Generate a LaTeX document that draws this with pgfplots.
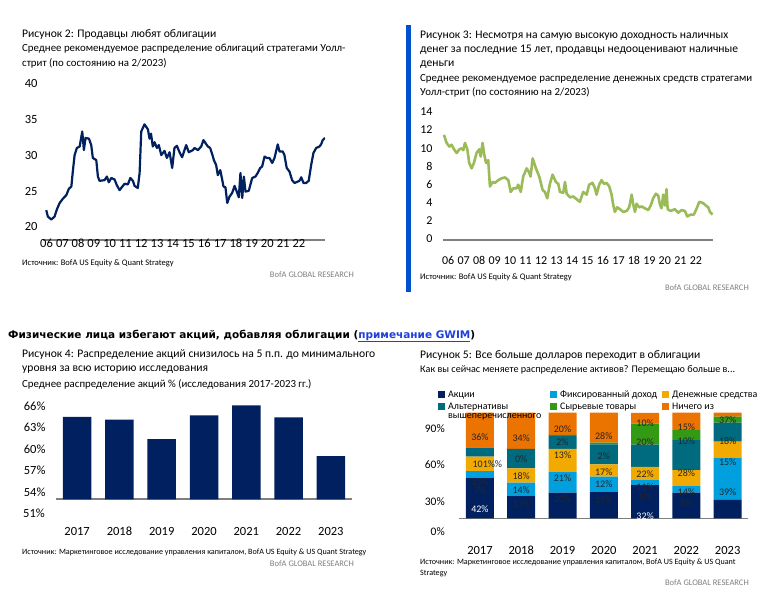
\documentclass[border=0pt]{standalone}
\usepackage{fontspec}
\setmainfont{Carlito}[Numbers=Lining]
\newfontfamily\hdrfont{DejaVu Sans}
\usepackage{pgfplots}
\pgfplotsset{compat=1.18}

\definecolor{navy}{HTML}{002060}
\definecolor{olive}{HTML}{9BBB59}
\definecolor{sidebar}{HTML}{0052CC}
\definecolor{axgray}{HTML}{7F7F7F}
\definecolor{fixblue}{HTML}{00A0DF}
\definecolor{cashgold}{HTML}{F2AA00}
\definecolor{altteal}{HTML}{006A7E}
\definecolor{commgreen}{HTML}{339A14}
\definecolor{noneorange}{HTML}{EB7300}
\definecolor{linkblue}{HTML}{1F3FD8}
\definecolor{bofagray}{HTML}{7F7F7F}

\newcommand{\ttl}{\fontsize{11.6}{13}\selectfont}
\newcommand{\sub}{\fontsize{10.85}{13}\selectfont}
\newcommand{\src}{\fontsize{8.5}{10}\selectfont}
\newcommand{\srcb}{\fontsize{8.1}{10}\selectfont}

\tikzset{lab/.style={font=\fontsize{10}{11}\selectfont, inner sep=0, text=black!85}}

\pgfplotsset{
  panel/.style={
    scale only axis, anchor=south west,
    axis x line*=bottom, axis y line*=left,
    y axis line style={draw=none},
    x axis line style={draw=axgray, line width=1.3pt},
    major tick length=0pt,
    tick label style={font=\fontsize{12.5}{14}\selectfont},
    typeset ticklabels with strut,
    /pgf/number format/assume math mode=true,
  },
}

\begin{document}
\begin{tikzpicture}
\path[use as bounding box] (0,0) rectangle (773pt,-611pt);

% ---------- Рисунок 2 ----------
\node[anchor=base west, inner sep=0, font=\ttl] at (22pt,-37pt) {Рисунок 2: Продавцы любят облигации};
\node[anchor=base west, inner sep=0, font=\sub] at (22pt,-51.5pt) {Среднее рекомендуемое распределение облигаций стратегами Уолл-};
\node[anchor=base west, inner sep=0, font=\sub] at (22pt,-66pt) {стрит (по состоянию на 2/2023)};

\begin{axis}[panel, at={(43pt,-240pt)}, width=282pt, height=155pt,
  xmin=-0.16, xmax=17.15, ymin=18.33, ymax=40,
  ytick={20,25,30,35,40},
  xtick={0.06,1.03,1.99,2.96,3.93,4.90,5.87,6.84,7.80,8.77,9.74,10.71,11.68,12.64,13.61,14.58,15.55},
  xticklabels={06,07,08,09,10,11,12,13,14,15,16,17,18,19,20,21,22},
  xticklabel style={yshift=6pt}, yticklabel style={xshift=-2pt}]
\addplot[navy, line width=2.2pt, line join=round] coordinates {
(0.04,22.5) (0.14,21.6) (0.35,21.2) (0.55,21.6) (0.69,22.6) (0.86,23.5) (1.06,24.1) (1.27,24.6)
(1.43,25.5) (1.58,25.8) (1.67,27.9) (1.78,30.2) (1.92,31.2) (2.09,31.4) (2.25,33.5) (2.35,30.9)
(2.45,32.6) (2.66,32.5) (2.80,31.6) (2.90,29.8) (3.11,29.5) (3.21,27.2) (3.31,26.6) (3.62,26.7)
(3.76,27.2) (3.88,26.4) (4.03,27.0) (4.23,26.8) (4.37,26.0) (4.54,25.3) (4.71,25.8) (4.85,26.2)
(5.05,26.1) (5.20,27.0) (5.36,26.6) (5.46,25.9) (5.66,25.6) (5.77,27.7) (5.87,33.5) (6.07,34.5)
(6.28,33.8) (6.38,32.5) (6.47,33.2) (6.58,31.4) (6.69,32.0) (6.83,31.2) (6.95,31.6) (7.10,30.2)
(7.30,30.8) (7.44,29.8) (7.61,30.6) (7.77,28.4) (7.91,31.2) (8.06,31.5) (8.22,30.6) (8.38,29.9)
(8.63,31.6) (8.79,30.6) (9.04,30.9) (9.14,31.2) (9.35,30.9) (9.55,31.4) (9.69,32.3) (9.96,31.4)
(10.10,31.2) (10.23,30.3) (10.33,29.5) (10.47,28.8) (10.57,27.4) (10.72,28.1) (10.82,27.0) (10.92,25.8)
(11.04,25.7) (11.15,23.5) (11.29,24.4) (11.45,24.9) (11.60,25.9) (11.70,25.3) (11.86,24.3) (11.96,27.7)
(12.07,24.2) (12.17,27.2) (12.27,25.1) (12.47,25.2) (12.68,27.0) (12.88,27.2) (13.02,27.7) (13.17,28.4)
(13.29,28.6) (13.44,30.0) (13.58,29.8) (13.74,29.8) (13.91,29.1) (14.05,29.8) (14.25,31.7) (14.36,30.7)
(14.56,30.7) (14.66,30.2) (14.80,28.4) (14.97,27.9) (15.13,26.7) (15.28,26.3) (15.48,26.5) (15.58,26.6)
(15.69,27.1) (15.83,26.3) (15.99,26.3) (16.15,26.6) (16.30,28.8) (16.44,30.5) (16.61,31.2) (16.81,31.4)
(16.91,31.7) (17.01,32.3) (17.15,32.6)};
\end{axis}

\node[anchor=base west, inner sep=0, font=\src] at (22pt,-265pt) {Источник: BofA US Equity \& Quant Strategy};
\node[anchor=base east, inner sep=0, font=\src, text=bofagray] at (354pt,-277pt) {BofA GLOBAL RESEARCH};

% ---------- Рисунок 3 ----------
\fill[sidebar] (406pt,-25pt) rectangle (411pt,-292pt);
\node[anchor=base west, inner sep=0, font=\ttl] at (420pt,-38pt) {Рисунок 3: Несмотря на самую высокую доходность наличных};
\node[anchor=base west, inner sep=0, font=\ttl] at (420pt,-52pt) {денег за последние 15 лет, продавцы недооценивают наличные};
\node[anchor=base west, inner sep=0, font=\ttl] at (420pt,-66pt) {деньги};
\node[anchor=base west, inner sep=0, font=\sub] at (420pt,-81pt) {Среднее рекомендуемое распределение денежных средств стратегами};
\node[anchor=base west, inner sep=0, font=\sub] at (420pt,-95pt) {Уолл-стрит (по состоянию на 2/2023)};

\begin{axis}[panel, at={(443pt,-240pt)}, width=270pt, height=127pt,
  xmin=-0.06, xmax=17.14, ymin=0, ymax=14,
  ytick={0,2,...,14},
  tick label style={font=\fontsize{12}{14}\selectfont},
  xtick={0.27,1.26,2.24,3.23,4.21,5.20,6.19,7.17,8.16,9.14,10.13,11.12,12.10,13.09,14.07,15.06,16.05},
  xticklabels={06,07,08,09,10,11,12,13,14,15,16,17,18,19,20,21,22},
  xticklabel style={yshift=-11pt}, yticklabel style={xshift=-7pt}]
\addplot[olive, line width=2.6pt, line join=round] coordinates {
(0.00,11.6) (0.17,10.7) (0.34,10.3) (0.49,10.5) (0.64,10.0) (0.81,9.6) (0.98,10.0) (1.13,10.1)
(1.23,9.9) (1.34,10.7) (1.49,10.0) (1.61,8.5) (1.76,7.9) (1.91,8.5) (2.08,9.6) (2.25,10.0)
(2.34,9.2) (2.46,10.7) (2.57,9.4) (2.68,8.5) (2.82,8.8) (2.93,5.9) (3.10,6.4) (3.25,6.3)
(3.46,6.6) (3.67,6.8) (3.89,6.9) (4.10,6.6) (4.25,5.3) (4.42,5.7) (4.63,5.7) (4.73,6.1)
(4.89,5.3) (5.05,7.0) (5.27,7.9) (5.41,7.5) (5.52,7.0) (5.65,9.0) (5.86,7.9) (6.07,7.0)
(6.29,5.5) (6.43,5.3) (6.58,4.6) (6.75,6.2) (6.92,7.2) (7.13,6.4) (7.28,6.2) (7.39,5.3)
(7.60,5.2) (7.71,6.4) (7.82,5.1) (8.03,4.7) (8.24,4.8) (8.45,4.5) (8.66,4.2) (8.87,5.3)
(9.09,5.0) (9.25,6.1) (9.47,6.3) (9.62,5.7) (9.72,5.0) (9.89,6.1) (10.04,6.6) (10.19,6.2)
(10.36,6.3) (10.53,5.9) (10.68,5.0) (10.78,3.9) (10.89,3.1) (11.04,3.6) (11.21,3.4) (11.42,3.1)
(11.64,3.2) (11.80,3.6) (11.96,5.0) (12.06,3.9) (12.17,3.1) (12.27,4.0) (12.44,3.6) (12.59,3.7)
(12.80,3.5) (13.01,3.3) (13.17,3.8) (13.33,4.6) (13.50,5.1) (13.65,4.9) (13.76,3.9) (13.86,3.5)
(13.97,5.0) (14.08,3.8) (14.18,5.6) (14.25,3.4) (14.44,3.2) (14.71,3.4) (14.92,3.0) (15.14,3.3)
(15.35,3.2) (15.50,2.6) (15.71,2.8) (15.92,2.8) (16.13,3.6) (16.26,4.2) (16.48,4.1) (16.69,3.8)
(16.84,3.6) (16.94,3.1) (17.11,2.8)};
\end{axis}

\node[anchor=base west, inner sep=0, font=\src] at (420pt,-279pt) {Источник: BofA US Equity \& Quant Strategy};
\node[anchor=base east, inner sep=0, font=\src, text=bofagray] at (749pt,-290pt) {BofA GLOBAL RESEARCH};

% ---------- Рисунок 4 ----------
\node[anchor=base west, inner sep=0, font=\hdrfont\bfseries\fontsize{10.5}{12}\selectfont] at (8pt,-338pt)
  {Физические лица избегают акций, добавляя облигации (\textcolor{linkblue}{\underline{примечание GWIM}})};
\node[anchor=base west, inner sep=0, font=\ttl] at (22pt,-357pt) {Рисунок 4: Распределение акций снизилось на 5 п.п. до минимального};
\node[anchor=base west, inner sep=0, font=\ttl] at (22pt,-371.5pt) {уровня за всю историю исследования};
\node[anchor=base west, inner sep=0, font=\sub] at (22pt,-387pt) {Среднее распределение акций \% (исследования 2017-2023 гг.)};

\begin{axis}[panel, at={(56pt,-499.3pt)}, width=296pt, height=96.9pt,
  xmin=-0.5, xmax=6.5, ymin=53, ymax=66.5,
  ytick={54,57,60,63,66}, yticklabel={\pgfmathprintnumber{\tick}\%},
  xtick={0,...,6}, xticklabels={2017,2018,2019,2020,2021,2022,2023},
  xticklabel style={yshift=-23pt}, yticklabel style={xshift=-7pt},
  x axis line style={draw=axgray, line width=1.8pt},
  ybar, bar width=28.5pt]
\addplot[fill=navy, draw=none] coordinates {(0,64.5) (1,64.1) (2,61.4) (3,64.7) (4,66.1) (5,64.4) (6,59.0)};
\end{axis}
\node[anchor=east, inner sep=0, font=\fontsize{12.5}{14}\selectfont] at (45pt,-513.3pt) {51\%};

\node[anchor=base west, inner sep=0, font=\srcb] at (22pt,-554pt) {Источник: Маркетинговое исследование управления капиталом, BofA US Equity \& US Quant Strategy};
\node[anchor=base east, inner sep=0, font=\src, text=bofagray] at (354pt,-566pt) {BofA GLOBAL RESEARCH};

% ---------- Рисунок 5 ----------
\node[anchor=base west, inner sep=0, font=\ttl] at (420pt,-358pt) {Рисунок 5: Все больше долларов переходит в облигации};
\node[anchor=base west, inner sep=0, font=\fontsize{10.15}{12}\selectfont] at (420pt,-372.5pt) {Как вы сейчас меняете распределение активов? Перемещаю больше в...};

\begin{axis}[panel, at={(459.3pt,-535.2pt)}, width=289pt, height=123pt,
  xmin=-0.5, xmax=6.5, ymin=-16, ymax=100.5,
  x axis line style={draw=none},
  ytick={-14.2,14.8,49.5,83.6}, yticklabels={0\%,30\%,60\%,90\%},
  yticklabel style={xshift=-11pt, font=\fontsize{11.5}{13}\selectfont},
  xtick={0,...,6}, xticklabels={2017,2018,2019,2020,2021,2022,2023},
  xticklabel style={yshift=-6pt},
  extra y ticks={0}, extra y tick labels={},
  extra y tick style={grid=major, major grid style={draw=axgray, line width=1.5pt}},
  ybar stacked, bar width=28pt,
  legend columns=3,
  legend style={at={(-0.0737,1.193)}, anchor=north west, draw=none, fill=none,
    inner sep=0pt, row sep=0pt, font=\fontsize{10}{11}\selectfont,
    cells={anchor=base west},
    /tikz/every odd column/.append style={column sep=1.5pt}},
  legend image code/.code={\fill[#1] (0pt,-0.3pt) rectangle (6.5pt,6.2pt);}]
\addplot[fill=navy, draw=none] coordinates {(0,38.5) (1,21.5) (2,24.3) (3,25.2) (4,31.5) (5,24.3) (6,17.4)};
\addplot[fill=fixblue, draw=none] coordinates {(0,6.3) (1,12.3) (2,19.9) (3,14.2) (4,4.7) (5,6.3) (6,40.1)};
\addplot[fill=cashgold, draw=none] coordinates {(0,13.6) (1,13.6) (2,21.5) (3,11.7) (4,12.6) (5,15.1) (6,15.1)};
\addplot[fill=altteal, draw=none] coordinates {(0,8.5) (1,18.3) (2,12.3) (3,18.9) (4,21.1) (5,28.4) (6,18.0)};
\addplot[fill=commgreen, draw=none] coordinates {(0,0) (1,0) (2,1.0) (3,1.6) (4,19.9) (5,9.5) (6,5.7)};
\addplot[fill=noneorange, draw=none] coordinates {(0,33.1) (1,34.4) (2,21.1) (3,28.4) (4,10.1) (5,16.4) (6,3.8)};
\addlegendentry{\makebox[100pt][l]{Акции}}
\addlegendentry{\makebox[100pt][l]{Фиксированный доход}}
\addlegendentry{\makebox[100pt][l]{Денежные средства}}
\addlegendentry{\parbox[t]{100pt}{\baselineskip=9pt Альтернативы\newline вышеперечисленного}}
\addlegendentry{\makebox[100pt][l]{Сырьевые товары}}
\addlegendentry{\makebox[100pt][l]{Ничего из}}
% anchor points for the (misplaced) data labels printed in the source
\coordinate (a1) at (axis cs:0,8.5);   \coordinate (a2) at (axis cs:0,26.8);
\coordinate (a3) at (axis cs:0,34.1);  \coordinate (a4) at (axis cs:0.18,51.4);
\coordinate (a5) at (axis cs:0,76.7);
\coordinate (b1) at (axis cs:1,13.9);  \coordinate (b2) at (axis cs:1,26.8);
\coordinate (b3) at (axis cs:1,40.4);  \coordinate (b4) at (axis cs:1,55.8);
\coordinate (b5) at (axis cs:1,75.7);
\coordinate (c1) at (axis cs:2,18.3);  \coordinate (c2) at (axis cs:2,38.5);
\coordinate (c3) at (axis cs:2,59.9);  \coordinate (c4) at (axis cs:2,71.9);
\coordinate (c5) at (axis cs:2,84.5);
\coordinate (d1) at (axis cs:3,17.0);  \coordinate (d2) at (axis cs:3,32.8);
\coordinate (d3) at (axis cs:3,44.2);  \coordinate (d4) at (axis cs:3,59.3);
\coordinate (d5) at (axis cs:3,78.2);
\coordinate (e1) at (axis cs:4,2.5);   \coordinate (e2) at (axis cs:4,19.6);
\coordinate (e3) at (axis cs:4,29.7);  \coordinate (e4) at (axis cs:4,42.3);
\coordinate (e5) at (axis cs:4,72.6);  \coordinate (e6) at (axis cs:4,89.9);
\coordinate (f1) at (axis cs:5,14.2);  \coordinate (f2) at (axis cs:5,25.2);
\coordinate (f3) at (axis cs:5,42.6);  \coordinate (f4) at (axis cs:5,73.2);
\coordinate (f5) at (axis cs:5,86.8);
\coordinate (g1) at (axis cs:6,24.6);  \coordinate (g2) at (axis cs:6,53.6);
\coordinate (g3) at (axis cs:6,73.2);  \coordinate (g4) at (axis cs:6,93.1);
\end{axis}
\node[lab, text=white] at (a1) {42\%};
\node[lab] at (a2) {7\%};
\node[lab] at (a3) {15\%};
\node[lab] at (a4) {101\%\%};
\node[lab] at (a5) {36\%};
\node[lab] at (b1) {13\%};
\node[lab] at (b2) {14\%};
\node[lab] at (b3) {18\%};
\node[lab] at (b4) {0\%};
\node[lab] at (b5) {34\%};
\node[lab] at (c1) {20\%};
\node[lab] at (c2) {21\%};
\node[lab] at (c3) {13\%};
\node[lab] at (c4) {2\%};
\node[lab] at (c5) {20\%};
\node[lab] at (d1) {15\%};
\node[lab] at (d2) {12\%};
\node[lab] at (d3) {17\%};
\node[lab] at (d4) {2\%};
\node[lab] at (d5) {28\%};
\node[lab, text=white] at (e1) {32\%};
\node[lab] at (e2) {5\%};
\node[lab] at (e3) {11\%};
\node[lab] at (e4) {22\%};
\node[lab] at (e5) {20\%};
\node[lab] at (e6) {10\%};
\node[lab] at (f1) {8\%};
\node[lab] at (f2) {14\%};
\node[lab] at (f3) {28\%};
\node[lab] at (f4) {10\%};
\node[lab] at (f5) {15\%};
\node[lab] at (g1) {39\%};
\node[lab] at (g2) {15\%};
\node[lab] at (g3) {18\%};
\node[lab] at (g4) {37\%};

\node[anchor=base west, inner sep=0, font=\srcb] at (420pt,-564pt) {Источник: Маркетинговое исследование управления капиталом, BofA US Equity \& US Quant};
\node[anchor=base west, inner sep=0, font=\srcb] at (420pt,-575pt) {Strategy};
\node[anchor=base east, inner sep=0, font=\src, text=bofagray] at (749pt,-585pt) {BofA GLOBAL RESEARCH};
\end{tikzpicture}
\end{document}
